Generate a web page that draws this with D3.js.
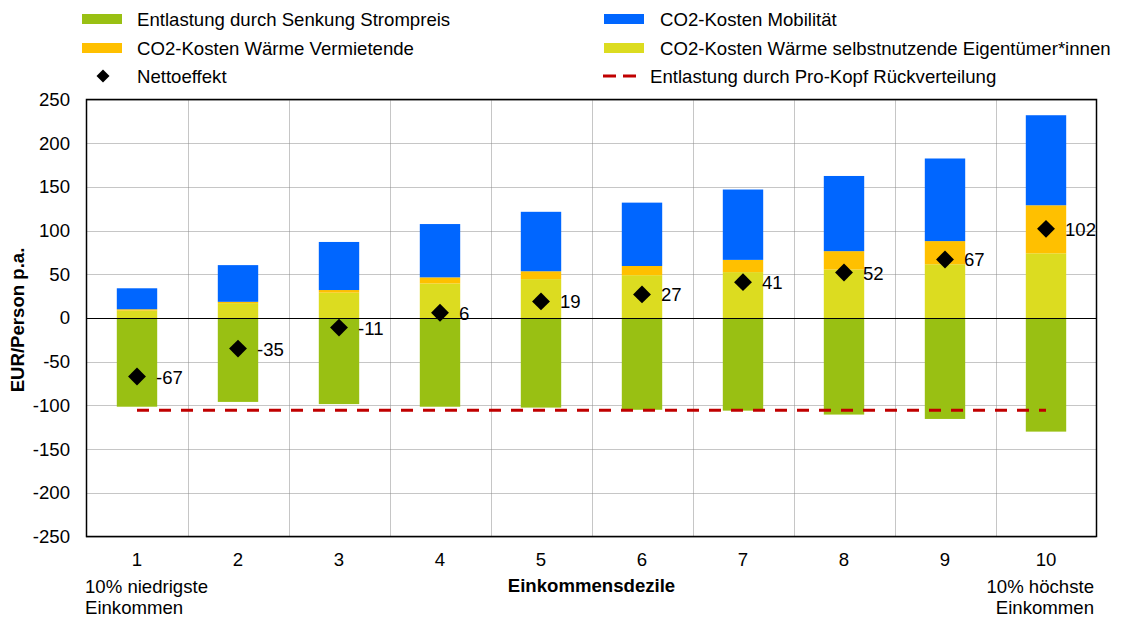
<!DOCTYPE html>
<html>
<head>
<meta charset="utf-8">
<script src="https://cdn.jsdelivr.net/npm/d3@7"></script>
<style>
  html, body { margin: 0; padding: 0; background: #fff; }
  svg { display: block; font-family: "Liberation Sans", Arial, sans-serif; }
</style>
</head>
<body>
<svg id="chart" width="1124" height="618"></svg>
<script>
// Einkommensdezile
const deciles = ["1", "2", "3", "4", "5", "6", "7", "8", "9", "10"];
// EUR/Person p.a. per component
const strompreis   = [-101.5, -96, -98.5, -101.5, -102.5, -105, -106, -110.5, -115.5, -130];
const waermeSelbst = [8.5, 17, 29, 39.5, 44.5, 49, 52.5, 55.5, 61.5, 74];
const waermeVerm   = [1.5, 1.5, 3, 7, 9, 10.5, 14, 21, 26.5, 55];
const mobilitaet   = [24, 42, 55, 61, 68, 72.5, 80.5, 86, 94.5, 103];
const nettoeffekt  = [-67, -35, -11, 6, 19, 27, 41, 52, 67, 102];
const rueckverteilung = [-105.5, -105.5, -105.5, -105.5, -105.5, -105.5, -105.5, -105.5, -105.5, -105.5];
const yTicks = [250, 200, 150, 100, 50, 0, -50, -100, -150, -200, -250];

const colors = {
  strom: "#99c013",
  selbst: "#dcdc20",
  verm: "#ffc000",
  mob: "#0066ff",
  line: "#c00000"
};

const svg = d3.select("#chart");
const plotL = 86.5, plotR = 1096.5, plotT = 99.5, plotB = 536.5;
const fs = 18.6;
const font = "Liberation Sans, Arial, sans-serif";

const x = d3.scaleBand().domain(deciles).range([plotL, plotR]).paddingInner(0).paddingOuter(0);
const y = d3.scaleLinear().domain([-250, 250]).range([plotB, plotT]);
const barW = x.bandwidth() * 0.4;

// grid
const grid = svg.append("g");
grid.selectAll("line.h").data(yTicks).join("line")
  .attr("x1", plotL).attr("x2", plotR)
  .attr("y1", d => Math.round(y(d)) + 0.5).attr("y2", d => Math.round(y(d)) + 0.5)
  .attr("stroke", "#8c8c8c").attr("stroke-width", 1).attr("stroke-dasharray", "1,1");
grid.selectAll("line.v").data(deciles.slice(1)).join("line")
  .attr("x1", d => Math.round(x(d)) + 0.5).attr("x2", d => Math.round(x(d)) + 0.5)
  .attr("y1", plotT).attr("y2", plotB)
  .attr("stroke", "#8c8c8c").attr("stroke-width", 1).attr("stroke-dasharray", "1,1");

// stacked bars
const rows = deciles.map((d, i) => ({
  d,
  strom: strompreis[i],
  selbst: waermeSelbst[i],
  verm: waermeVerm[i],
  mob: mobilitaet[i]
}));
const stack = d3.stack().keys(["selbst", "verm", "mob"]);
const series = stack(rows);
const bars = svg.append("g");
series.forEach(s => {
  bars.selectAll(null).data(s).join("rect")
    .attr("x", p => x(p.data.d) + (x.bandwidth() - barW) / 2)
    .attr("width", barW)
    .attr("y", p => y(p[1]))
    .attr("height", p => y(p[0]) - y(p[1]))
    .attr("fill", colors[s.key]);
});
bars.selectAll(null).data(rows).join("rect")
  .attr("x", r => x(r.d) + (x.bandwidth() - barW) / 2)
  .attr("width", barW)
  .attr("y", y(0))
  .attr("height", r => y(r.strom) - y(0))
  .attr("fill", colors.strom);

// zero line
svg.append("line")
  .attr("x1", plotL).attr("x2", plotR)
  .attr("y1", Math.round(y(0)) + 0.5).attr("y2", Math.round(y(0)) + 0.5)
  .attr("stroke", "#000").attr("stroke-width", 1.2);

// per-capita redistribution line
const lineGen = d3.line()
  .x((v, i) => x(deciles[i]) + x.bandwidth() / 2)
  .y(v => y(v));
svg.append("path")
  .datum(rueckverteilung)
  .attr("d", lineGen)
  .attr("fill", "none")
  .attr("stroke", colors.line)
  .attr("stroke-width", 3)
  .attr("stroke-dasharray", "12,10");

// net effect markers
const diamond = d3.symbol().type(d3.symbolSquare).size(160);
const marks = svg.append("g");
marks.selectAll(null).data(nettoeffekt).join("path")
  .attr("d", diamond)
  .attr("transform", (v, i) => `translate(${x(deciles[i]) + x.bandwidth() / 2},${y(v)}) rotate(45)`)
  .attr("fill", "#000");
marks.selectAll(null).data(nettoeffekt).join("text")
  .attr("x", (v, i) => x(deciles[i]) + x.bandwidth() / 2 + 19)
  .attr("y", v => y(v) + 7)
  .attr("font-size", fs)
  .attr("fill", "#000")
  .text(v => v);

// plot frame
svg.append("rect")
  .attr("x", plotL).attr("y", plotT)
  .attr("width", plotR - plotL).attr("height", plotB - plotT)
  .attr("fill", "none").attr("stroke", "#000").attr("stroke-width", 1.5);

// y axis (plain hyphen for negatives)
const yAxis = d3.axisLeft(y).tickValues(yTicks).tickFormat(d => String(d)).tickSize(0).tickPadding(16.5);
const ya = svg.append("g").attr("transform", `translate(${plotL},0)`).call(yAxis);
ya.select(".domain").remove();
ya.selectAll("text").attr("font-size", fs).attr("font-family", font).attr("fill", "#000");

// x axis
const xAxis = d3.axisBottom(x).tickSize(0).tickPadding(16);
const xa = svg.append("g").attr("transform", `translate(0,${plotB})`).call(xAxis);
xa.select(".domain").remove();
xa.selectAll("text").attr("font-size", fs).attr("font-family", font).attr("fill", "#000");

// axis titles
svg.append("text")
  .attr("x", (plotL + plotR) / 2).attr("y", 592)
  .attr("text-anchor", "middle").attr("font-size", fs).attr("font-weight", "bold")
  .text("Einkommensdezile");
svg.append("text")
  .attr("transform", `translate(24,${(plotT + plotB) / 2 + 2}) rotate(-90)`)
  .attr("text-anchor", "middle").attr("font-size", fs).attr("font-weight", "bold")
  .text("EUR/Person p.a.");

// edge annotations
const ann = svg.append("g").attr("font-size", fs);
ann.append("text").attr("x", 85).attr("y", 593).text("10% niedrigste");
ann.append("text").attr("x", 85).attr("y", 614).text("Einkommen");
ann.append("text").attr("x", 1094).attr("y", 593).attr("text-anchor", "end").text("10% höchste");
ann.append("text").attr("x", 1094).attr("y", 614).attr("text-anchor", "end").text("Einkommen");

// legend
const legend = svg.append("g").attr("font-size", fs);
const swatches = [
  { label: "Entlastung durch Senkung Strompreis", color: colors.strom, x: 82, tx: 137, cy: 19 },
  { label: "CO2-Kosten Wärme Vermietende", color: colors.verm, x: 82, tx: 137, cy: 48 },
  { label: "CO2-Kosten Mobilität", color: colors.mob, x: 604, tx: 660, cy: 19 },
  { label: "CO2-Kosten Wärme selbstnutzende Eigentümer*innen", color: colors.selbst, x: 604, tx: 660, cy: 48 }
];
swatches.forEach(s => {
  legend.append("rect").attr("x", s.x).attr("y", s.cy - 5).attr("width", 40).attr("height", 10).attr("fill", s.color);
  legend.append("text").attr("x", s.tx).attr("y", s.cy + 6.5).text(s.label);
});
legend.append("path")
  .attr("d", d3.symbol().type(d3.symbolSquare).size(85))
  .attr("transform", "translate(103,76) rotate(45)")
  .attr("fill", "#000");
legend.append("text").attr("x", 137).attr("y", 82.5).text("Nettoeffekt");
legend.append("line")
  .attr("x1", 603).attr("x2", 636).attr("y1", 76).attr("y2", 76)
  .attr("stroke", colors.line).attr("stroke-width", 3).attr("stroke-dasharray", "13,7");
legend.append("text").attr("x", 650).attr("y", 82.5).text("Entlastung durch Pro-Kopf Rückverteilung");
</script>
</body>
</html>
